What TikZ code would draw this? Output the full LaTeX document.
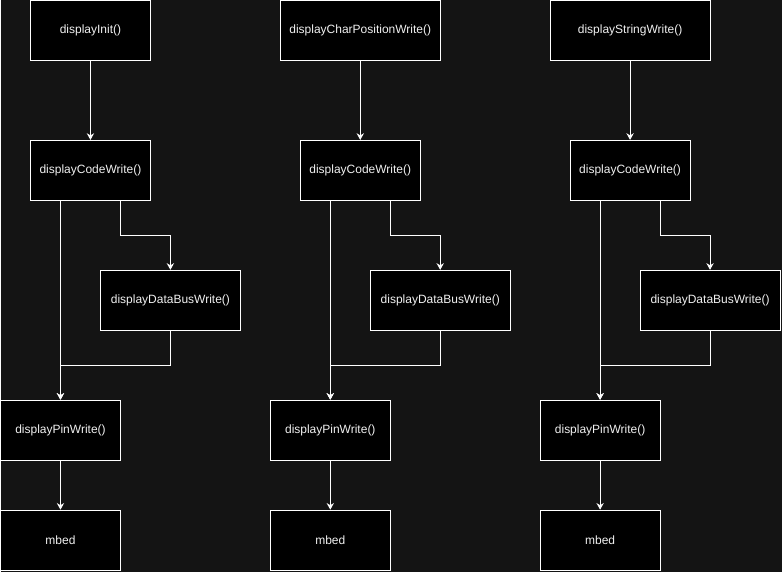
\documentclass[tikz,border=0pt]{standalone}
\usepackage{fontspec}
\setmainfont{Liberation Sans}
\usetikzlibrary{arrows.meta,calc}
\definecolor{bgdark}{HTML}{141414}
\definecolor{labelgray}{HTML}{F0F0F0}
\tikzset{
  fbox/.style={draw=white,fill=black,line width=0.75pt,text=labelgray,
    font=\fontsize{9}{11}\selectfont,inner sep=0pt,minimum width=90pt,minimum height=45pt},
  widebox/.style={fbox,minimum width=120pt},
  busbox/.style={fbox,minimum width=105pt},
  flow/.style={draw=white,line width=0.75pt,-{Stealth[length=5pt,width=5.5pt]}}
}
\begin{document}
\begin{tikzpicture}[x=0.75pt,y=-0.75pt]
        \fill[bgdark] (0,0) rectangle (782,572);
        % first column
        \node[fbox] (init) at (90,30) {displayInit()};
        \node[fbox] (code1) at (90,170) {displayCodeWrite()};
        \node[busbox] (bus1) at (170,300) {displayDataBusWrite()};
        \node[fbox] (pin1) at (60,430) {displayPinWrite()};
        \node[fbox] (mbed1) at (60,540) {mbed};
        \draw[flow] (init) -- (code1);
        \draw[flow] (code1.south -| pin1.north) -- (pin1.north);
        \draw[flow] ($(code1.south)+(30,0)$) -- ++(0,35) -| (bus1.north);
        \draw[flow] (bus1.south) -- ++(0,35) -| (pin1.north);
        \draw[flow] (pin1) -- (mbed1);
        % second column
        \node[widebox] (charpos) at (360,30) {displayCharPositionWrite()};
        \node[fbox] (code2) at (360,170) {displayCodeWrite()};
        \node[busbox] (bus2) at (440,300) {displayDataBusWrite()};
        \node[fbox] (pin2) at (330,430) {displayPinWrite()};
        \node[fbox] (mbed2) at (330,540) {mbed};
        \draw[flow] (charpos) -- (code2);
        \draw[flow] (code2.south -| pin2.north) -- (pin2.north);
        \draw[flow] ($(code2.south)+(30,0)$) -- ++(0,35) -| (bus2.north);
        \draw[flow] (bus2.south) -- ++(0,35) -| (pin2.north);
        \draw[flow] (pin2) -- (mbed2);
        % third column
        \node[widebox] (string) at (630,30) {displayStringWrite()};
        \node[fbox] (code3) at (630,170) {displayCodeWrite()};
        \node[busbox] (bus3) at (710,300) {displayDataBusWrite()};
        \node[fbox] (pin3) at (600,430) {displayPinWrite()};
        \node[fbox] (mbed3) at (600,540) {mbed};
        \draw[flow] (string) -- (code3);
        \draw[flow] (code3.south -| pin3.north) -- (pin3.north);
        \draw[flow] ($(code3.south)+(30,0)$) -- ++(0,35) -| (bus3.north);
        \draw[flow] (bus3.south) -- ++(0,35) -| (pin3.north);
        \draw[flow] (pin3) -- (mbed3);
      \end{tikzpicture}
\end{document}
